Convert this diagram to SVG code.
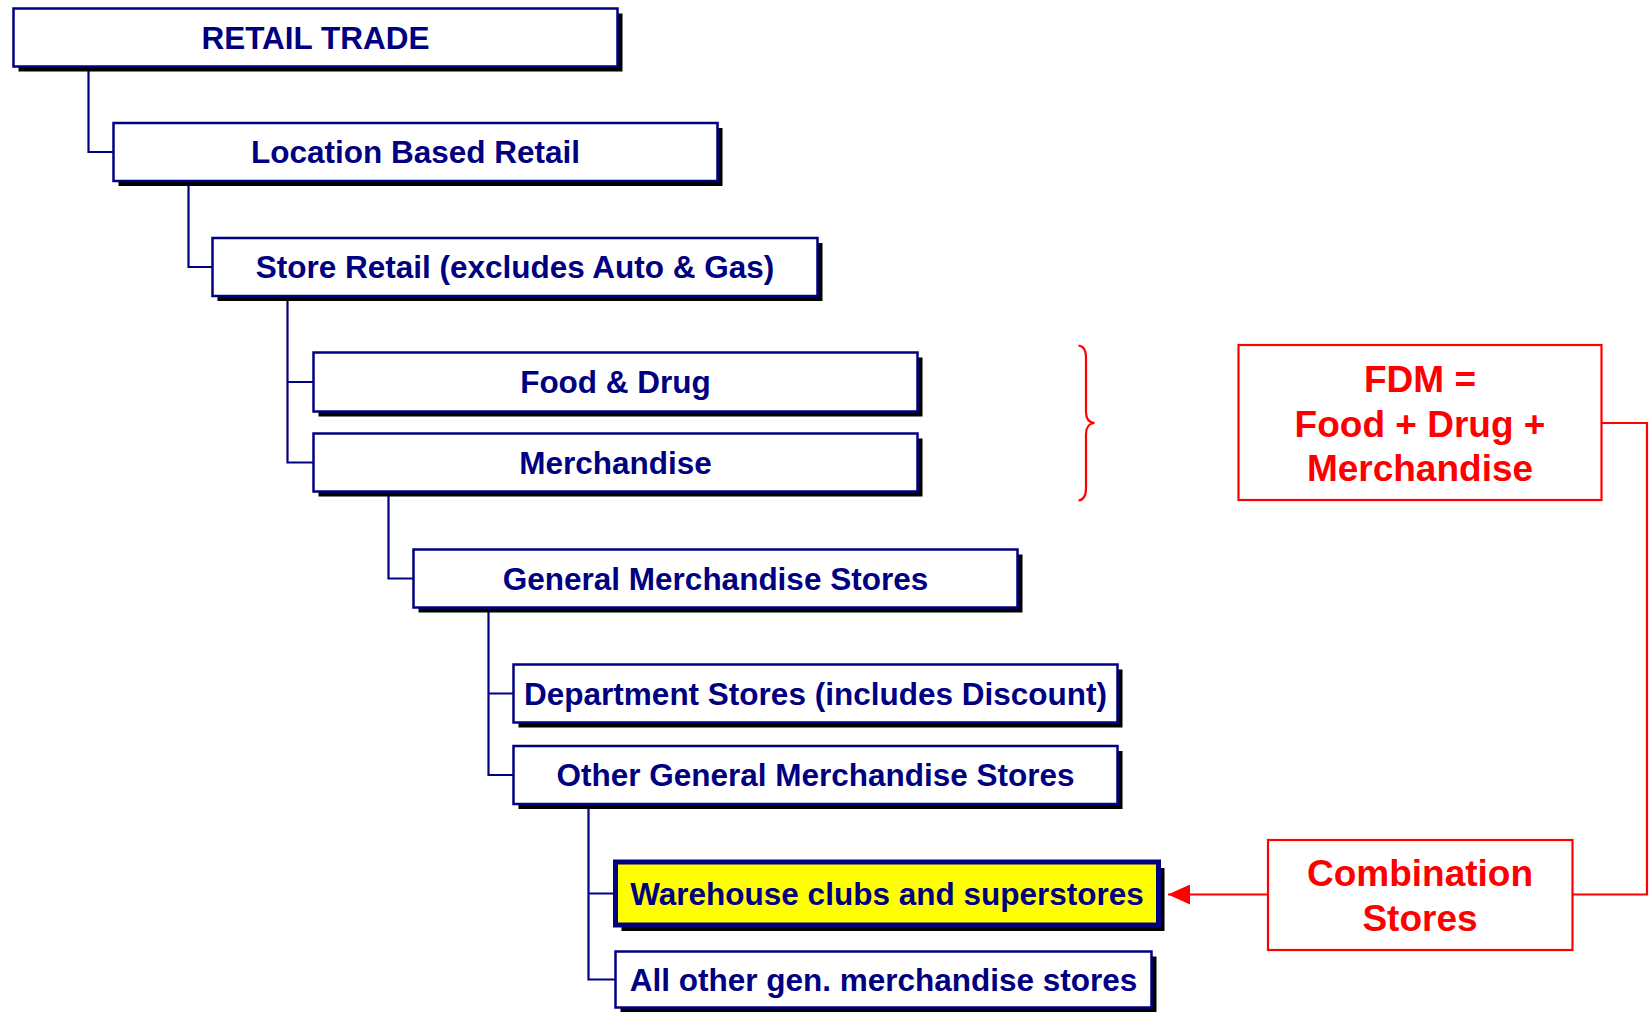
<svg xmlns="http://www.w3.org/2000/svg" width="1650" height="1012" viewBox="0 0 1650 1012">
  <defs>
    <style>
      .box { fill: #ffffff; stroke: #000080; stroke-width: 2.5; }
      .hl { fill: #ffff00; stroke: #000080; stroke-width: 5; }
      .shadow { fill: #000000; }
      .lbl { font-family: "Liberation Sans", Arial, sans-serif; font-weight: bold; font-size: 31.5px; fill: #000080; text-anchor: middle; }
      .note { font-family: "Liberation Sans", Arial, sans-serif; font-weight: bold; font-size: 37px; fill: #ff0000; text-anchor: middle; }
      .tree { fill: none; stroke: #000080; stroke-width: 2.2; }
      .red { fill: none; stroke: #ff0000; stroke-width: 2.2; }
      .redbox { fill: #ffffff; stroke: #ff0000; stroke-width: 2.2; }
    </style>
    <marker id="redArrow" markerUnits="userSpaceOnUse" markerWidth="22" markerHeight="20" refX="22" refY="10" orient="auto">
      <path d="M0,0 L22,10 L0,20 z" fill="#ff0000"/>
    </marker>
  </defs>

  <!-- tree connectors -->
  <g id="connectors">
    <path class="tree" d="M88.5 66.5 V152 H113.5"/>
    <path class="tree" d="M188.5 181 V267 H212.5"/>
    <path class="tree" d="M287.5 296 V462.5 H313.5 M287.5 382 H313.5"/>
    <path class="tree" d="M388.5 491.5 V578.5 H413.5"/>
    <path class="tree" d="M488.5 607.5 V775 H513.5 M488.5 693.5 H513.5"/>
    <path class="tree" d="M588.5 804 V979.5 H615.5 M588.5 893.5 H615.5"/>
    <!-- red annotation links -->
    <path class="red" d="M1601.5 423 H1647 V894.5 H1572.5"/>
    <path class="red" d="M1268 894.5 H1168" marker-end="url(#redArrow)"/>
    <path class="red" d="M1078.5 345.5 C1084 346 1086 350 1086 358 V412 C1086 419 1089 422.5 1094.5 423 C1089 423.5 1086 427 1086 434 V488 C1086 496 1084 500 1078.5 500.5"/>
  </g>

  <g id="retail-trade">
    <rect class="shadow" x="18.5" y="13.5" width="604" height="58"/>
    <rect class="box" x="13.5" y="8.5" width="604" height="58"/>
    <text class="lbl" x="315.5" y="48.5">RETAIL TRADE</text>
  </g>

  <g id="location-based-retail">
    <rect class="shadow" x="118.5" y="128" width="604" height="58"/>
    <rect class="box" x="113.5" y="123" width="604" height="58"/>
    <text class="lbl" x="415.5" y="163">Location Based Retail</text>
  </g>

  <g id="store-retail">
    <rect class="shadow" x="217.5" y="243" width="605" height="58"/>
    <rect class="box" x="212.5" y="238" width="605" height="58"/>
    <text class="lbl" x="515" y="278">Store Retail (excludes Auto &amp; Gas)</text>
  </g>

  <g id="food-drug">
    <rect class="shadow" x="318.5" y="357.5" width="604" height="59"/>
    <rect class="box" x="313.5" y="352.5" width="604" height="59"/>
    <text class="lbl" x="615.5" y="393">Food &amp; Drug</text>
  </g>

  <g id="merchandise">
    <rect class="shadow" x="318.5" y="438.5" width="604" height="58"/>
    <rect class="box" x="313.5" y="433.5" width="604" height="58"/>
    <text class="lbl" x="615.5" y="473.5">Merchandise</text>
  </g>

  <g id="general-merchandise">
    <rect class="shadow" x="418.5" y="554.5" width="604" height="58"/>
    <rect class="box" x="413.5" y="549.5" width="604" height="58"/>
    <text class="lbl" x="715.5" y="589.5">General Merchandise Stores</text>
  </g>

  <g id="department-stores">
    <rect class="shadow" x="518.5" y="669.5" width="604" height="58"/>
    <rect class="box" x="513.5" y="664.5" width="604" height="58"/>
    <text class="lbl" x="815.5" y="704.5">Department Stores (includes Discount)</text>
  </g>

  <g id="other-general-merchandise">
    <rect class="shadow" x="518.5" y="751" width="604" height="58"/>
    <rect class="box" x="513.5" y="746" width="604" height="58"/>
    <text class="lbl" x="815.5" y="786">Other General Merchandise Stores</text>
  </g>

  <g id="warehouse-clubs">
    <rect class="shadow" x="621.5" y="868" width="543" height="63"/>
    <rect class="hl" x="615.5" y="862" width="543" height="63"/>
    <text class="lbl" x="887" y="904.5">Warehouse clubs and superstores</text>
  </g>

  <g id="all-other-gen">
    <rect class="shadow" x="620.5" y="956.5" width="536" height="56"/>
    <rect class="box" x="615.5" y="951.5" width="536" height="56"/>
    <text class="lbl" x="883.5" y="990.5">All other gen. merchandise stores</text>
  </g>

  <g id="fdm-note">
    <rect class="redbox" x="1238.5" y="345" width="363" height="155"/>
    <text class="note" x="1420" y="392">FDM =</text>
    <text class="note" x="1420" y="436.5">Food + Drug +</text>
    <text class="note" x="1420" y="481">Merchandise</text>
  </g>

  <g id="combination-stores">
    <rect class="redbox" x="1268" y="840" width="304.5" height="110"/>
    <text class="note" x="1420" y="886">Combination</text>
    <text class="note" x="1420" y="931">Stores</text>
  </g>
</svg>
